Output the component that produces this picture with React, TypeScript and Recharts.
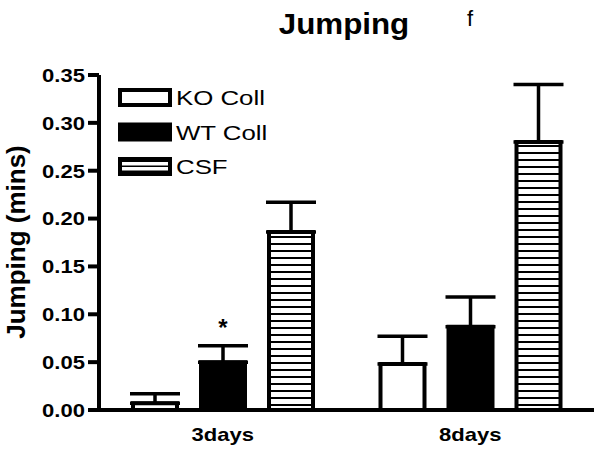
import {
  BarChart,
  Bar,
  XAxis,
  YAxis,
  ErrorBar,
  Legend,
  LabelList,
} from "recharts";

const categories = ["3days", "8days"];
const koColl = [0.007, 0.048];
const koCollErr = [0.01, 0.029];
const wtColl = [0.05, 0.087];
const wtCollErr = [0.017, 0.031];
const csf = [0.186, 0.28];
const csfErr = [0.031, 0.06];
const marks = ["*", ""];
const yTicks = [0, 0.05, 0.1, 0.15, 0.2, 0.25, 0.3, 0.35];
const legendOrder = ["ko", "wt", "csf"];

const FONT = "'Liberation Sans', Arial, Helvetica, sans-serif";
const SX = 1.16;

const data = categories.map((name, i) => ({
  name,
  ko: koColl[i],
  koErr: [0, koCollErr[i]],
  wt: wtColl[i],
  wtErr: [0, wtCollErr[i]],
  csf: csf[i],
  csfErr: [0, csfErr[i]],
  mark: marks[i],
}));

function YTick({ x, y, payload }: { x?: number; y?: number; payload?: { value: number } }) {
  return (
    <text
      transform={`translate(${x},${y}) scale(${SX},1)`}
      textAnchor="end"
      dy="0.36em"
      fontFamily={FONT}
      fontWeight="bold"
      fontSize={19}
      fill="#000"
    >
      {payload?.value.toFixed(2)}
    </text>
  );
}

function XTick({ x, y, payload }: { x?: number; y?: number; payload?: { value: string } }) {
  return (
    <text
      transform={`translate(${x},${(y ?? 0) + 31}) scale(${SX},1)`}
      textAnchor="middle"
      fontFamily={FONT}
      fontWeight="bold"
      fontSize={19}
      fill="#000"
    >
      {payload?.value}
    </text>
  );
}

function StarLabel(props: { x?: number; y?: number; width?: number; value?: string }) {
  const { x = 0, y = 0, width = 0, value } = props;
  if (!value) return null;
  return (
    <text
      x={x + width / 2}
      y={y - 26}
      textAnchor="middle"
      fontFamily={FONT}
      fontWeight="bold"
      fontSize={24}
      fill="#000"
    >
      {value}
    </text>
  );
}

const swatches: Record<string, string> = {
  ko: "#fff",
  wt: "#000",
  csf: "url(#hatchLegend)",
};

function LegendBox({ payload }: { payload?: Array<{ value: string; dataKey?: string }> }) {
  const items = [...(payload ?? [])].sort(
    (a, b) => legendOrder.indexOf(String(a.dataKey)) - legendOrder.indexOf(String(b.dataKey))
  );
  return (
    <svg width={260} height={110} style={{ overflow: "visible" }}>
      <defs>
        <pattern id="hatchLegend" patternUnits="userSpaceOnUse" width="8" height="5">
          <rect width="8" height="5" fill="#fff" />
          <rect y="3.5" width="8" height="1.5" fill="#000" />
        </pattern>
      </defs>
      {items.map((it, i) => (
        <g key={it.value} transform={`translate(0,${i * 34.5})`}>
          <rect x={2} y={2} width={50} height={15} fill={swatches[String(it.dataKey)]} stroke="#000" strokeWidth={4} />
          <text
            transform="translate(58,17) scale(1.23,1)"
            fontFamily={FONT}
            fontSize={21}
            fill="#000"
          >
            {it.value}
          </text>
        </g>
      ))}
    </svg>
  );
}

export default function App() {
  return (
    <div style={{ position: "absolute", left: 0, top: 0, width: 600, height: 452, background: "#fff" }}>
      <BarChart
        width={600}
        height={452}
        data={data}
        margin={{ top: 75, right: 6, bottom: 0, left: 0 }}
        barSize={44}
        barGap={24}
      >
        <defs>
          <pattern id="hatch" patternUnits="userSpaceOnUse" width="8" height="7">
            <rect width="8" height="7" fill="#fff" />
            <rect y="5" width="8" height="2" fill="#000" />
          </pattern>
        </defs>
        <text
          transform="translate(344,34) scale(1.08,1)"
          textAnchor="middle"
          fontFamily={FONT}
          fontWeight="bold"
          fontSize={29}
          fill="#000"
        >
          Jumping
        </text>
        <text x={470} y={26} textAnchor="middle" fontFamily={FONT} fontSize={22} fill="#000">
          f
        </text>
        <text
          transform="translate(25,242) rotate(-90)"
          textAnchor="middle"
          fontFamily={FONT}
          fontWeight="bold"
          fontSize={26}
          fill="#000"
        >
          Jumping (mins)
        </text>
        <XAxis
          dataKey="name"
          height={42}
          axisLine={{ stroke: "#000", strokeWidth: 4 }}
          tickLine={false}
          tickSize={0}
          tickMargin={0}
          tick={<XTick />}
        />
        <YAxis
          width={99}
          domain={[0, 0.35]}
          ticks={yTicks}
          interval={0}
          axisLine={{ stroke: "#000", strokeWidth: 4 }}
          tickLine={{ stroke: "#000", strokeWidth: 4 }}
          tickSize={11}
          tickMargin={3}
          tick={<YTick />}
        />
        <Legend
          layout="horizontal"
          verticalAlign="middle"
          align="center"
          content={<LegendBox />}
          wrapperStyle={{ position: "absolute", left: 118, top: 88, width: 260, height: 110 }}
        />
        <Bar dataKey="ko" name="KO Coll" fill="#fff" stroke="#000" strokeWidth={4} isAnimationActive={false}>
          <ErrorBar dataKey="koErr" direction="y" width={25} stroke="#000" strokeWidth={3.5} />
        </Bar>
        <Bar dataKey="wt" name="WT Coll" fill="#000" stroke="#000" strokeWidth={4} isAnimationActive={false}>
          <ErrorBar dataKey="wtErr" direction="y" width={25} stroke="#000" strokeWidth={3.5} />
          <LabelList dataKey="mark" content={<StarLabel />} />
        </Bar>
        <Bar dataKey="csf" name="CSF" fill="url(#hatch)" stroke="#000" strokeWidth={4} isAnimationActive={false}>
          <ErrorBar dataKey="csfErr" direction="y" width={25} stroke="#000" strokeWidth={3.5} />
        </Bar>
      </BarChart>
    </div>
  );
}
